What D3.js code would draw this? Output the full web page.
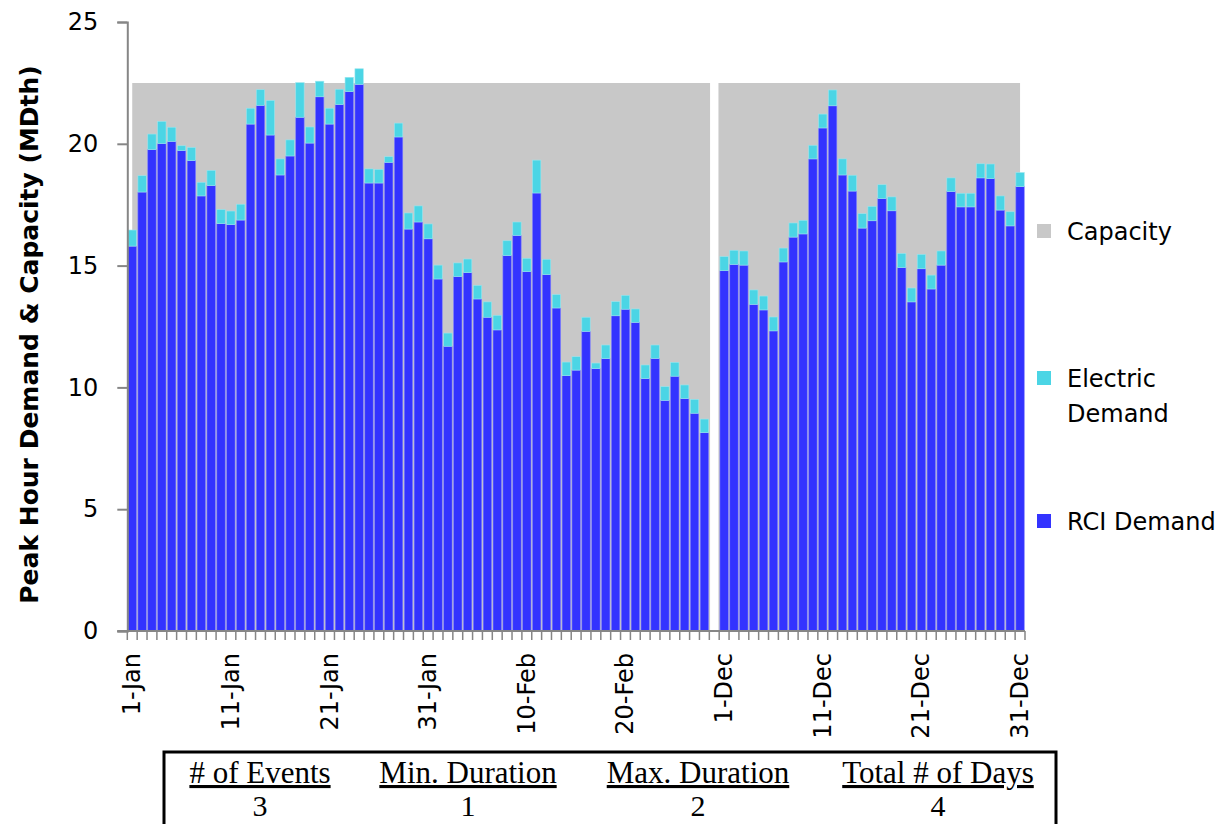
<!DOCTYPE html>
<html><head><meta charset="utf-8">
<script src="https://cdn.jsdelivr.net/npm/d3@7/dist/d3.min.js"></script>
<style>body{margin:0;background:#fff}svg{display:block}</style>
</head><body>
<svg id="chart" width="1225" height="824"></svg>
<script>
// ---- data ----
const categories = [];
for (let d = 1; d <= 31; d++) categories.push(d + "-Jan");
for (let d = 1; d <= 28; d++) categories.push(d + "-Feb");
categories.push("");               // gap between Feb and Dec
for (let d = 1; d <= 31; d++) categories.push(d + "-Dec");

const tickLabels = ["1-Jan","11-Jan","21-Jan","31-Jan","10-Feb","20-Feb","1-Dec","11-Dec","21-Dec","31-Dec"];

const rciDemand = [
 15.80,18.02,19.76,20.01,20.10,19.72,19.31,17.86,18.28,16.72,
 16.68,16.87,20.81,21.58,20.36,18.72,19.50,21.09,20.03,21.93,
 20.81,21.61,22.14,22.44,18.39,18.39,19.24,20.28,16.50,16.79,
 16.10,14.45,11.69,14.55,14.71,13.63,12.88,12.36,15.41,16.24,
 14.75,17.98,14.63,13.26,10.48,10.71,12.30,10.77,11.18,12.94,
 13.21,12.67,10.36,11.19,9.47,10.46,9.54,8.94,8.14,null,
 14.79,15.05,15.02,13.41,13.18,12.32,15.15,16.17,16.30,19.38,
 20.65,21.56,18.72,18.06,16.54,16.84,17.75,17.25,14.92,13.51,
 14.87,14.04,15.02,18.04,17.41,17.41,18.60,18.57,17.28,16.63,
 18.24];
const electricDemand = [
 0.66,0.67,0.64,0.91,0.58,0.20,0.54,0.56,0.63,0.58,
 0.56,0.65,0.65,0.64,1.42,0.66,0.66,1.42,0.66,0.64,
 0.65,0.63,0.59,0.64,0.58,0.56,0.23,0.57,0.66,0.66,
 0.61,0.57,0.54,0.56,0.56,0.56,0.63,0.60,0.61,0.55,
 0.55,1.35,0.63,0.55,0.56,0.55,0.58,0.23,0.56,0.58,
 0.57,0.55,0.56,0.55,0.56,0.57,0.56,0.57,0.56,null,
 0.58,0.58,0.58,0.59,0.57,0.57,0.57,0.58,0.56,0.56,
 0.57,0.65,0.66,0.65,0.59,0.59,0.57,0.57,0.58,0.57,
 0.59,0.57,0.58,0.56,0.56,0.56,0.58,0.60,0.58,0.58,
 0.58];
const capacity = categories.map(c => c === "" ? null : 22.5);

const yTicks = [0,5,10,15,20,25];
const legendItems = [
  {name:"Capacity", lines:["Capacity"], color:"#c8c8c8"},
  {name:"Electric Demand", lines:["Electric","Demand"], color:"#4bd5e5"},
  {name:"RCI Demand", lines:["RCI Demand"], color:"#3333ff"}
];
const tableHeaders = ["# of Events","Min. Duration","Max. Duration","Total # of Days"];
const tableValues = ["3","1","2","4"];

// ---- layout ----
const svg = d3.select("#chart");
const L = 127.3, R = 1025, T = 22, B = 631;
const idx = d3.range(categories.length);
const x = d3.scaleBand().domain(idx).range([L, R]).paddingInner(0.15).paddingOuter(0.075);
const y = d3.scaleLinear().domain([0,25]).range([B, T]);
const cx = i => x(i) + x.bandwidth()/2;
const axisColor = "#868686";
const font = "'DejaVu Sans', sans-serif";
const serif = "'Liberation Serif', 'Times New Roman', serif";

// capacity area segments
const segs = [];
let cur = null;
idx.forEach(i => {
  if (capacity[i] == null) { if (cur) { segs.push(cur); cur = null; } }
  else { if (!cur) cur = []; cur.push(i); }
});
if (cur) segs.push(cur);
segs.forEach(s => {
  const first = s[0], last = s[s.length-1];
  const x0 = (first > 0 && capacity[first-1] == null) ? x(first-1) + x.bandwidth() : cx(first);
  const x1 = (last < idx.length-1 && capacity[last+1] == null) ? x(last+1) : cx(last);
  const pts = [{x:x0, v:capacity[first]}, ...s.slice(1,-1).map(i => ({x:cx(i), v:capacity[i]})), {x:x1, v:capacity[last]}];
  svg.append("path")
    .attr("d", d3.area().x(d => d.x).y0(y(0)).y1(d => y(d.v))(pts))
    .attr("fill", "#c8c8c8");
});

// stacked bars
const stackData = idx.filter(i => rciDemand[i] != null).map(i => ({i, rci: rciDemand[i], elec: electricDemand[i]}));
const stack = d3.stack().keys(["rci","elec"])(stackData);
const colors = {rci:"#3333ff", elec:"#4bd5e5"};
const strokes = {rci:"#8080ff", elec:"#9be6ee"};
stack.forEach(layer => {
  svg.append("g").selectAll("rect").data(layer).join("rect")
    .attr("x", d => x(d.data.i))
    .attr("width", x.bandwidth())
    .attr("y", d => y(d[1]))
    .attr("height", d => y(d[0]) - y(d[1]))
    .attr("fill", colors[layer.key])
    .attr("stroke", strokes[layer.key])
    .attr("stroke-width", 0.6);
});

// y axis
const yAxis = svg.append("g").attr("transform", `translate(${L},0)`)
  .call(d3.axisLeft(y).tickValues(yTicks).tickSize(10).tickPadding(19));
yAxis.select(".domain").attr("stroke", axisColor).attr("stroke-width", 2);
yAxis.selectAll(".tick line").attr("stroke", axisColor).attr("stroke-width", 2);
yAxis.selectAll(".tick text").attr("font-family", font).attr("font-size", 24).attr("fill", "#000");

// x axis: minor ticks at category boundaries
const step = x.step();
const xg = svg.append("g");
xg.append("line").attr("x1", L - 10).attr("x2", R).attr("y1", B).attr("y2", B)
  .attr("stroke", axisColor).attr("stroke-width", 2);
xg.selectAll("line.t").data(d3.range(categories.length + 1)).join("line").attr("class","t")
  .attr("x1", i => L + i*step).attr("x2", i => L + i*step)
  .attr("y1", B).attr("y2", B + 9)
  .attr("stroke", axisColor).attr("stroke-width", 1.5);
xg.selectAll("text").data(tickLabels).join("text")
  .attr("transform", d => `translate(${cx(categories.indexOf(d)) + 8},${B + 22}) rotate(-90)`)
  .attr("text-anchor", "end")
  .attr("font-family", font).attr("font-size", 24).attr("fill", "#000")
  .text(d => d);

// y title
svg.append("text")
  .attr("transform", `translate(38,${(T+B)/2 + 8}) rotate(-90)`)
  .attr("text-anchor", "middle")
  .attr("font-family", font).attr("font-weight", "bold").attr("font-size", 25)
  .text("Peak Hour Demand & Capacity (MDth)");

// legend
const legPos = [231, 378, 521];
legendItems.forEach((it, k) => {
  const g = svg.append("g").attr("transform", `translate(1037,${legPos[k]})`);
  g.append("rect").attr("x", 0).attr("y", -7).attr("width", 14).attr("height", 14).attr("fill", it.color);
  it.lines.forEach((ln, j) => {
    g.append("text").attr("x", 30).attr("y", 9 + j*35)
      .attr("font-family", font).attr("font-size", 24).attr("fill", "#000").text(ln);
  });
});

// table
svg.append("rect").attr("x", 164).attr("y", 752).attr("width", 892).attr("height", 100)
  .attr("fill", "none").attr("stroke", "#000").attr("stroke-width", 3);
const colX = [260, 468, 698, 938];
tableHeaders.forEach((h, k) => {
  svg.append("text").attr("x", colX[k]).attr("y", 783).attr("text-anchor", "middle")
    .attr("font-family", serif).attr("font-size", 31)
    .attr("text-decoration", "underline").text(h);
  svg.append("text").attr("x", colX[k]).attr("y", 816).attr("text-anchor", "middle")
    .attr("font-family", serif).attr("font-size", 30)
    .text(tableValues[k]);
});
</script>
</body></html>
